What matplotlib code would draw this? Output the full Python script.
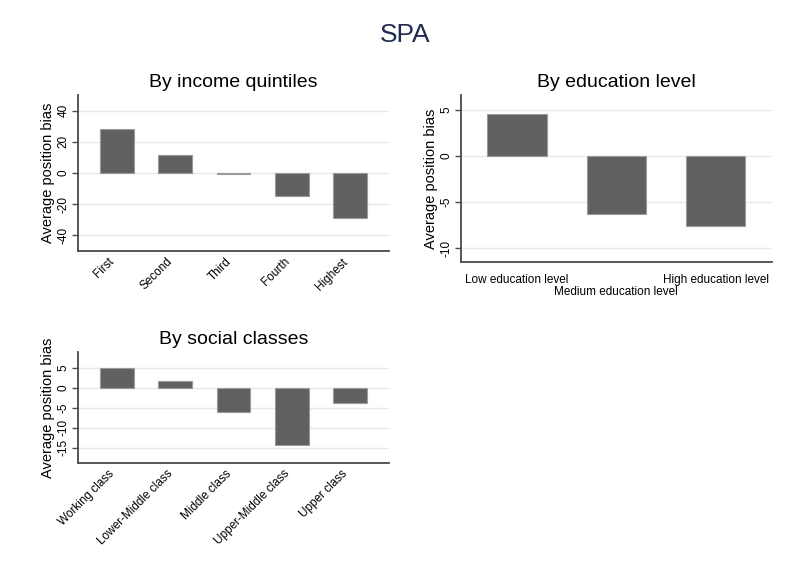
import matplotlib.pyplot as plt

plt.rcParams['font.family'] = ['Liberation Sans', 'DejaVu Sans']

# data
income_labels = ['First', 'Second', 'Third', 'Fourth', 'Highest']
income_values = [28.0, 11.6, -0.4, -15.0, -28.8]

edu_labels = ['Low education level', 'Medium education level', 'High education level']
edu_values = [4.57, -6.35, -7.6]

class_labels = ['Working class', 'Lower-Middle class', 'Middle class',
                'Upper-Middle class', 'Upper class']
class_values = [4.8, 1.6, -6.0, -14.3, -3.8]

income_ticks = [-40, -20, 0, 20, 40]
edu_ticks = [-10, -5, 0, 5]
class_ticks = [-15, -10, -5, 0, 5]

BAR = '#606060'
EDGE = '#9a9a9a'
SPINE = '#4a4a4a'
GRID = '#e8e8e8'


def style_axis(ax, ticks, ylim):
    ax.set_ylim(*ylim)
    ax.set_yticks(ticks)
    ax.set_yticklabels([str(t) for t in ticks], rotation=90, va='center', fontsize=8.5)
    ax.yaxis.grid(True, color=GRID, lw=1)
    ax.set_axisbelow(True)
    for s in ['top', 'right']:
        ax.spines[s].set_visible(False)
    for s in ['left', 'bottom']:
        ax.spines[s].set_color(SPINE)
        ax.spines[s].set_linewidth(1.3)
    ax.tick_params(axis='y', color=SPINE, length=4, width=1, pad=2)
    ax.tick_params(axis='x', length=0)
    ax.set_ylabel('Average position bias', fontsize=10.5, labelpad=2)


fig = plt.figure(figsize=(7.9, 5.79), dpi=100)
fig.text(0.513, 0.94, 'SPA', ha='center', va='center', fontsize=19, color='#1f2d4d')

# income quintiles
ax1 = fig.add_axes([0.0987, 0.5665, 0.3937, 0.2694])
x = list(range(1, len(income_values) + 1))
ax1.bar(x, income_values, width=0.58, color=BAR, edgecolor=EDGE, lw=0.8)
ax1.set_xlim(0.336, 5.664)
style_axis(ax1, income_ticks, (-50, 50))
ax1.set_xticks(x)
ax1.set_xticklabels(income_labels, rotation=45, ha='right', fontsize=8.5)
ax1.set_title('By income quintiles', fontsize=14, pad=6)

# education level
ax2 = fig.add_axes([0.5835, 0.5475, 0.3933, 0.2884])
x = list(range(1, len(edu_values) + 1))
ax2.bar(x, edu_values, width=0.6, color=BAR, edgecolor=EDGE, lw=0.8)
ax2.set_xlim(0.436, 3.564)
style_axis(ax2, edu_ticks, (-11.5, 6.6))
ax2.set_xticks(x)
ax2.set_xticklabels(edu_labels, fontsize=8.5)
ax2.tick_params(axis='x', pad=9)
for i, lab in enumerate(ax2.get_xticklabels()):
    if i % 2 == 1:
        lab.set_y(-0.07)
ax2.set_title('By education level', fontsize=14, pad=6)

# social classes
ax3 = fig.add_axes([0.0987, 0.2009, 0.3937, 0.1911])
x = list(range(1, len(class_values) + 1))
ax3.bar(x, class_values, width=0.58, color=BAR, edgecolor=EDGE, lw=0.8)
ax3.set_xlim(0.336, 5.664)
style_axis(ax3, class_ticks, (-18.75, 8.9))
ax3.set_xticks(x)
ax3.set_xticklabels(class_labels, rotation=45, ha='right', fontsize=8.5)
ax3.set_title('By social classes', fontsize=14, pad=6)

fig.savefig('out.png', dpi=100)
